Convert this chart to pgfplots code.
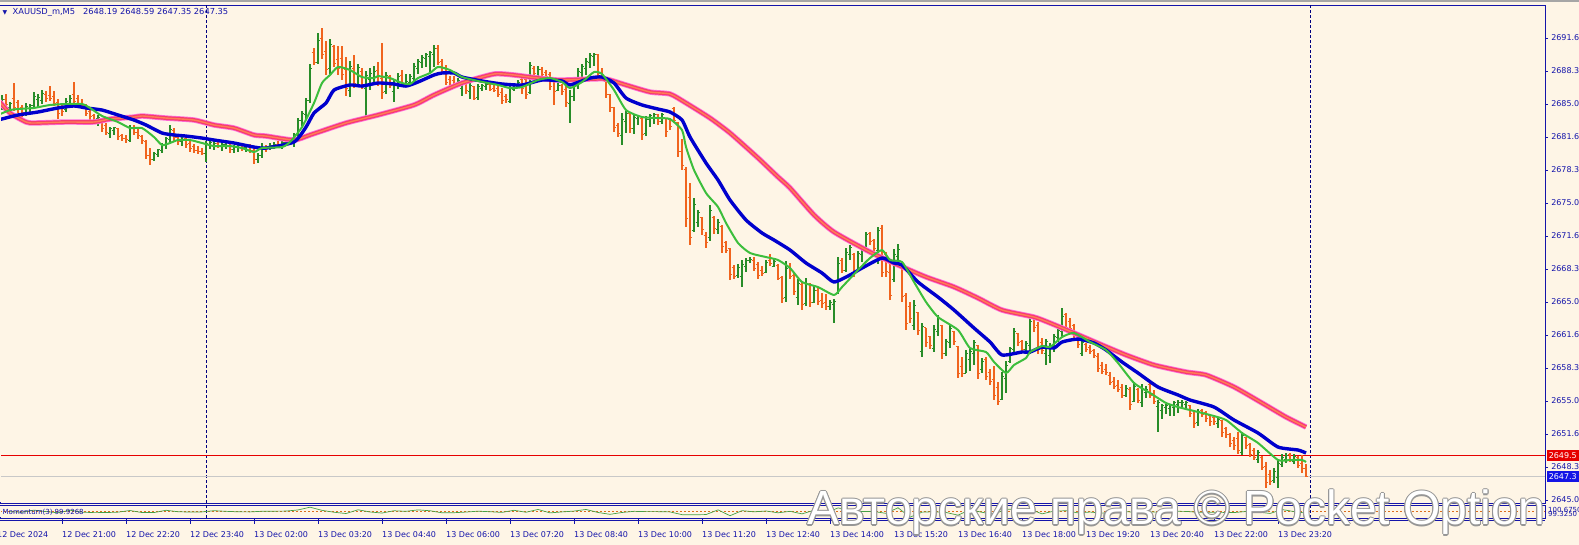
\documentclass[border=0pt]{standalone}
\usepackage{pgfplots}
\pgfplotsset{compat=1.18}
\usepackage{pgfplotstable}
\usepackage{fontspec}
\setmainfont{DejaVu Sans}
\newfontfamily\wmfont{Liberation Sans}
\definecolor{bg}{RGB}{254,245,230}
\definecolor{axblue}{RGB}{20,20,170}
\definecolor{upg}{RGB}{40,140,40}
\definecolor{dnor}{RGB}{240,100,30}
\definecolor{maG}{RGB}{60,190,60}
\definecolor{maB}{RGB}{0,0,205}
\definecolor{maRa}{RGB}{255,110,220}
\definecolor{maRb}{RGB}{245,60,110}
\definecolor{maRc}{RGB}{255,125,85}
\definecolor{momg}{RGB}{70,160,70}
\definecolor{lvl}{RGB}{220,110,30}
\definecolor{sep}{RGB}{0,0,128}
\definecolor{boxred}{RGB}{230,0,0}
\definecolor{boxblue}{RGB}{20,20,230}
\definecolor{wmgray}{RGB}{150,150,150}
\definecolor{bidgray}{RGB}{200,200,200}

\pgfdeclareplotmark{ctick}{\pgfpathmoveto{\pgfpoint{0pt}{0pt}}\pgfpathlineto{\pgfpoint{2.3pt}{0pt}}\pgfusepathqstroke}
\pgfdeclareplotmark{otick}{\pgfpathmoveto{\pgfpoint{-2.3pt}{0pt}}\pgfpathlineto{\pgfpoint{0pt}{0pt}}\pgfusepathqstroke}

\pgfplotstableread{
i o h l c
0 2684.8 2685.6 2683.9 2685.3
1 2684.6 2685.9 2684.4 2685.5
2 2685.5 2686.0 2684.6 2684.9
3 2684.6 2685.2 2684.0 2685.0
4 2685.6 2687.1 2684.3 2684.6
5 2685.2 2685.4 2684.1 2684.5
6 2684.6 2684.9 2683.7 2684.1
7 2684.0 2685.1 2683.8 2684.7
8 2684.5 2685.0 2683.9 2684.8
9 2684.8 2686.2 2684.5 2685.8
10 2685.5 2686.0 2684.6 2685.7
11 2685.4 2686.4 2685.0 2686.1
12 2686.0 2686.3 2685.2 2685.6
13 2685.9 2686.8 2685.3 2685.6
14 2685.8 2686.3 2684.8 2685.0
15 2685.2 2685.5 2683.5 2684.0
16 2684.6 2685.0 2683.8 2684.2
17 2684.4 2685.6 2684.2 2685.3
18 2685.1 2685.9 2684.8 2685.6
19 2686.0 2687.2 2684.9 2685.3
20 2685.6 2685.9 2684.7 2685.0
21 2685.1 2685.5 2684.6 2684.8
22 2684.8 2685.0 2683.8 2684.0
23 2684.2 2684.5 2683.4 2683.7
24 2683.8 2684.0 2683.1 2683.4
25 2683.5 2683.9 2682.8 2683.6
26 2683.3 2683.6 2682.2 2682.5
27 2682.8 2683.1 2681.9 2682.1
28 2682.0 2682.7 2681.6 2682.5
29 2682.3 2682.7 2681.9 2682.6
30 2682.5 2682.6 2681.4 2681.7
31 2681.8 2682.0 2681.3 2681.5
32 2681.5 2681.9 2681.1 2681.4
33 2681.3 2682.9 2681.2 2682.6
34 2682.6 2682.9 2681.9 2682.1
35 2682.1 2682.7 2681.5 2681.8
36 2681.7 2681.9 2681.0 2681.3
37 2681.2 2681.4 2679.4 2679.8
38 2679.8 2680.6 2678.8 2679.4
39 2679.4 2680.2 2679.2 2680.0
40 2679.9 2680.5 2679.6 2680.4
41 2680.3 2681.1 2680.0 2680.9
42 2680.8 2681.7 2680.5 2681.5
43 2681.4 2682.9 2681.1 2682.4
44 2682.3 2682.6 2681.3 2681.6
45 2681.6 2681.9 2680.9 2681.2
46 2681.2 2681.8 2680.8 2681.4
47 2681.5 2681.9 2680.6 2680.9
48 2681.0 2681.3 2680.2 2680.5
49 2680.7 2681.0 2680.0 2680.3
50 2680.3 2680.8 2679.9 2680.2
51 2680.2 2680.6 2679.8 2680.0
52 2680.0 2681.3 2679.1 2681.0
53 2680.9 2681.4 2680.5 2681.1
54 2680.8 2681.3 2680.4 2681.0
55 2681.0 2681.4 2680.6 2680.8
56 2680.8 2681.2 2680.3 2680.9
57 2680.9 2681.4 2680.5 2681.2
58 2681.1 2681.3 2680.1 2680.4
59 2680.4 2680.9 2680.1 2680.7
60 2680.6 2681.0 2680.2 2680.8
61 2680.8 2681.1 2680.3 2680.6
62 2680.6 2681.0 2680.2 2680.9
63 2680.8 2681.0 2680.0 2680.3
64 2680.3 2680.6 2678.9 2679.4
65 2679.4 2680.0 2679.0 2679.8
66 2679.8 2681.1 2679.5 2680.6
67 2680.6 2680.9 2680.2 2680.5
68 2680.7 2681.1 2680.4 2680.8
69 2680.8 2681.2 2680.5 2680.9
70 2680.9 2681.3 2680.6 2680.7
71 2680.7 2681.3 2680.5 2681.1
72 2681.1 2681.6 2680.8 2681.4
73 2681.3 2681.7 2680.9 2681.5
74 2681.0 2682.1 2680.7 2681.9
75 2681.9 2683.6 2681.6 2683.3
76 2683.3 2684.3 2682.8 2684.0
77 2683.9 2685.6 2683.4 2685.4
78 2685.4 2689.0 2685.1 2688.6
79 2690.2 2690.7 2688.9 2689.2
80 2689.2 2692.2 2689.0 2691.4
81 2691.6 2692.7 2689.5 2690.0
82 2690.3 2691.4 2687.9 2688.5
83 2688.6 2691.6 2688.0 2691.0
84 2690.8 2691.0 2688.7 2689.1
85 2689.5 2690.9 2687.9 2688.6
86 2689.6 2690.9 2687.4 2688.0
87 2688.5 2689.7 2685.8 2686.6
88 2686.4 2689.3 2685.7 2688.8
89 2688.6 2689.9 2686.6 2687.1
90 2687.0 2689.0 2686.9 2688.7
91 2688.3 2688.6 2686.5 2686.9
92 2686.6 2688.3 2683.8 2687.9
93 2687.5 2688.6 2686.4 2688.1
94 2687.7 2688.8 2686.9 2688.3
95 2688.4 2689.2 2686.8 2687.2
96 2687.6 2691.2 2685.5 2686.2
97 2686.3 2688.2 2686.0 2687.9
98 2687.8 2687.9 2686.6 2686.9
99 2686.3 2687.4 2685.2 2687.1
100 2687.0 2688.1 2686.5 2687.8
101 2687.9 2688.4 2686.8 2687.1
102 2687.1 2688.0 2686.9 2687.3
103 2687.2 2688.0 2687.0 2687.8
104 2687.6 2689.1 2687.3 2688.8
105 2688.6 2689.5 2688.0 2689.3
106 2689.2 2689.9 2688.6 2689.7
107 2689.6 2690.1 2688.7 2690.0
108 2689.8 2690.4 2688.2 2690.2
109 2690.0 2691.0 2688.7 2690.6
110 2690.6 2691.0 2688.9 2689.2
111 2689.3 2689.5 2688.2 2688.6
112 2688.6 2688.9 2686.9 2687.2
113 2687.5 2687.8 2686.6 2686.9
114 2687.4 2687.8 2686.9 2687.1
115 2686.9 2687.6 2686.8 2687.4
116 2686.6 2687.2 2685.8 2687.0
117 2687.4 2687.5 2686.0 2686.4
118 2686.3 2687.2 2685.5 2686.9
119 2686.8 2686.8 2685.4 2685.6
120 2685.7 2687.0 2685.4 2686.8
121 2686.6 2687.0 2686.3 2686.9
122 2686.8 2687.2 2686.4 2687.0
123 2687.0 2687.0 2686.3 2686.5
124 2686.6 2686.9 2686.2 2686.4
125 2686.6 2686.9 2685.7 2686.0
126 2686.2 2686.6 2685.0 2685.4
127 2685.8 2686.0 2685.1 2685.5
128 2685.3 2686.9 2685.1 2686.6
129 2686.5 2687.1 2686.3 2686.9
130 2686.8 2687.4 2686.6 2687.2
131 2687.5 2687.6 2686.0 2686.6
132 2687.5 2687.8 2685.5 2686.0
133 2686.2 2689.2 2686.0 2688.9
134 2688.6 2688.8 2687.7 2688.1
135 2687.8 2688.8 2687.6 2688.5
136 2688.5 2688.7 2687.7 2688.0
137 2688.2 2688.4 2687.6 2687.8
138 2688.0 2688.2 2686.4 2686.8
139 2687.4 2687.7 2684.9 2686.3
140 2686.4 2687.1 2686.3 2686.9
141 2686.9 2687.0 2685.9 2686.3
142 2686.5 2686.8 2684.7 2685.2
143 2685.0 2686.4 2683.1 2685.8
144 2685.8 2687.1 2685.3 2686.8
145 2686.9 2688.6 2686.5 2688.3
146 2688.2 2689.0 2687.6 2688.8
147 2688.6 2689.6 2687.9 2689.3
148 2689.2 2690.2 2688.6 2689.9
149 2689.8 2690.1 2688.8 2690.0
150 2690.0 2690.0 2687.7 2688.1
151 2688.2 2688.6 2687.3 2687.6
152 2687.3 2687.4 2685.6 2686.0
153 2686.0 2686.0 2684.2 2684.6
154 2684.6 2684.7 2682.2 2682.6
155 2682.8 2683.1 2681.7 2682.0
156 2681.8 2684.1 2680.9 2683.4
157 2683.2 2684.3 2682.1 2684.0
158 2684.0 2684.0 2682.1 2682.5
159 2682.5 2684.0 2682.0 2683.6
160 2683.5 2683.9 2682.9 2683.7
161 2683.5 2683.6 2681.4 2681.9
162 2682.0 2683.8 2681.8 2683.4
163 2683.4 2684.0 2682.7 2683.8
164 2683.6 2684.1 2683.0 2683.9
165 2683.9 2684.0 2682.9 2683.2
166 2683.2 2684.1 2683.0 2683.9
167 2683.5 2683.6 2681.7 2682.2
168 2683.4 2683.6 2682.4 2682.7
169 2684.5 2684.7 2683.1 2683.3
170 2683.1 2683.2 2679.6 2680.2
171 2680.2 2681.5 2678.3 2678.8
172 2678.4 2678.6 2672.6 2673.4
173 2675.6 2677.0 2670.8 2671.5
174 2672.2 2675.5 2672.1 2674.8
175 2673.0 2674.3 2672.6 2674.0
176 2673.5 2673.6 2671.8 2672.3
177 2671.7 2672.1 2670.5 2671.0
178 2671.5 2674.8 2671.2 2674.2
179 2673.5 2673.7 2671.9 2672.4
180 2672.3 2673.4 2671.9 2673.0
181 2672.6 2672.8 2670.0 2670.6
182 2671.0 2671.2 2669.9 2670.2
183 2670.4 2670.5 2667.2 2667.8
184 2668.5 2668.7 2667.3 2667.6
185 2667.7 2668.8 2667.4 2668.5
186 2667.6 2669.2 2666.5 2668.8
187 2668.6 2669.4 2668.0 2669.2
188 2669.2 2669.5 2668.9 2669.3
189 2669.2 2669.5 2668.1 2668.4
190 2668.8 2669.0 2667.3 2667.7
191 2668.2 2668.6 2667.6 2667.9
192 2668.0 2669.2 2667.9 2669.0
193 2669.2 2669.8 2668.6 2668.9
194 2668.6 2669.4 2668.5 2669.1
195 2668.7 2668.8 2667.2 2667.4
196 2667.5 2667.6 2664.9 2665.4
197 2665.5 2669.1 2665.0 2668.4
198 2668.6 2668.9 2667.3 2667.6
199 2667.7 2668.0 2665.7 2666.1
200 2665.5 2667.3 2664.7 2666.9
201 2666.8 2667.0 2664.2 2664.7
202 2664.8 2667.4 2664.6 2666.8
203 2666.8 2666.9 2664.5 2665.0
204 2665.0 2666.6 2664.9 2666.2
205 2666.2 2666.4 2664.7 2665.1
206 2665.2 2665.9 2664.4 2664.8
207 2665.0 2665.8 2664.2 2664.5
208 2664.5 2665.2 2664.2 2665.0
209 2664.7 2665.3 2662.9 2665.1
210 2665.9 2669.5 2665.8 2668.9
211 2669.2 2669.4 2667.9 2668.2
212 2668.2 2670.5 2668.0 2670.0
213 2669.8 2670.8 2669.2 2670.5
214 2669.8 2670.0 2667.5 2668.0
215 2668.2 2670.2 2668.0 2669.9
216 2669.8 2670.6 2669.0 2670.4
217 2670.3 2672.1 2670.1 2671.8
218 2671.9 2672.1 2670.8 2671.1
219 2671.2 2671.4 2670.0 2670.4
220 2670.2 2672.6 2668.8 2672.2
221 2672.4 2672.8 2667.5 2668.0
222 2669.8 2670.1 2667.5 2668.1
223 2668.0 2669.0 2665.2 2665.7
224 2667.3 2670.4 2667.0 2669.8
225 2669.6 2670.9 2668.9 2670.3
226 2668.6 2669.0 2665.0 2665.6
227 2665.7 2665.9 2662.2 2662.8
228 2664.5 2665.0 2662.9 2663.3
229 2662.6 2665.2 2662.2 2664.6
230 2663.9 2664.0 2661.7 2662.1
231 2660.0 2662.9 2659.4 2662.5
232 2662.4 2662.4 2660.5 2660.9
233 2661.5 2661.6 2660.3 2660.6
234 2660.3 2662.7 2660.0 2662.2
235 2662.0 2663.7 2661.6 2663.4
236 2662.6 2662.7 2659.2 2659.8
237 2659.8 2661.3 2659.5 2661.0
238 2660.9 2662.7 2660.4 2662.3
239 2662.0 2662.1 2660.7 2661.0
240 2660.5 2660.6 2657.3 2657.8
241 2658.5 2659.4 2657.4 2657.8
242 2657.8 2660.2 2657.8 2659.8
243 2659.2 2660.4 2658.0 2660.0
244 2659.8 2661.2 2658.6 2660.9
245 2660.6 2660.7 2657.2 2657.8
246 2658.2 2659.3 2657.8 2659.0
247 2659.2 2659.4 2657.1 2657.5
248 2657.9 2658.2 2656.6 2657.0
249 2657.2 2658.5 2655.1 2655.6
250 2656.4 2656.9 2654.6 2655.0
251 2655.2 2657.9 2655.1 2657.5
252 2657.3 2659.0 2655.8 2658.6
253 2659.0 2660.5 2658.8 2660.3
254 2660.2 2662.4 2659.6 2662.0
255 2661.8 2661.9 2660.6 2660.9
256 2661.0 2661.2 2659.9 2660.2
257 2660.2 2661.1 2659.9 2660.8
258 2660.6 2663.4 2659.7 2663.0
259 2663.4 2663.7 2662.0 2662.4
260 2662.6 2663.0 2659.7 2660.2
261 2660.9 2661.4 2659.7 2660.1
262 2659.8 2661.3 2658.6 2661.0
263 2659.6 2660.9 2658.8 2660.6
264 2660.5 2661.8 2660.0 2661.5
265 2661.4 2662.3 2661.0 2662.1
266 2662.0 2664.4 2661.4 2663.5
267 2663.7 2663.9 2662.0 2662.4
268 2663.0 2663.4 2662.0 2662.3
269 2662.6 2662.8 2661.3 2661.6
270 2661.6 2661.9 2660.4 2660.7
271 2659.8 2661.2 2659.5 2660.9
272 2660.7 2660.9 2660.0 2660.2
273 2660.4 2660.7 2659.7 2660.0
274 2660.1 2660.3 2659.3 2659.6
275 2659.5 2659.9 2657.9 2658.3
276 2658.6 2658.9 2657.7 2658.0
277 2658.2 2658.7 2657.6 2657.9
278 2657.6 2657.9 2656.6 2656.9
279 2657.0 2657.4 2656.2 2656.5
280 2656.6 2657.1 2655.9 2656.2
281 2656.4 2656.7 2655.3 2655.6
282 2655.6 2656.6 2655.4 2656.3
283 2656.2 2656.4 2654.1 2654.6
284 2655.0 2656.9 2654.9 2656.5
285 2656.2 2656.3 2654.8 2655.1
286 2654.9 2656.7 2654.4 2656.3
287 2655.9 2656.5 2655.3 2656.2
288 2656.7 2657.1 2655.3 2655.6
289 2655.8 2656.1 2654.7 2655.0
290 2654.4 2655.1 2651.9 2654.8
291 2654.0 2654.7 2653.2 2654.5
292 2654.3 2654.7 2653.7 2654.5
293 2654.2 2654.7 2653.5 2654.5
294 2654.3 2655.0 2653.5 2654.8
295 2654.6 2655.1 2653.8 2654.9
296 2654.8 2655.1 2654.4 2654.9
297 2654.6 2655.0 2654.1 2654.9
298 2654.5 2654.6 2653.4 2653.7
299 2654.0 2654.1 2652.3 2652.7
300 2652.8 2654.2 2652.5 2653.9
301 2654.0 2654.2 2653.4 2653.6
302 2653.8 2654.0 2652.9 2653.2
303 2653.5 2653.7 2652.5 2652.9
304 2653.3 2653.6 2652.6 2652.9
305 2652.7 2653.3 2652.3 2653.1
306 2653.0 2653.1 2651.4 2651.8
307 2652.2 2652.4 2651.3 2651.6
308 2651.6 2651.8 2650.4 2650.7
309 2651.0 2651.4 2650.1 2650.5
310 2651.2 2651.9 2649.6 2650.0
311 2649.8 2651.9 2649.5 2651.5
312 2651.3 2651.4 2650.2 2650.5
313 2650.6 2650.8 2649.3 2649.6
314 2650.0 2650.3 2649.0 2649.3
315 2649.1 2650.1 2648.7 2649.8
316 2649.3 2649.4 2648.0 2648.3
317 2648.4 2648.8 2646.2 2646.8
318 2647.6 2648.0 2646.5 2646.9
319 2647.0 2648.2 2646.7 2647.9
320 2647.3 2649.0 2646.2 2648.7
321 2648.6 2649.6 2648.3 2649.3
322 2649.1 2649.8 2648.7 2649.5
323 2649.6 2649.8 2648.8 2649.1
324 2648.9 2649.6 2648.6 2649.4
325 2649.3 2649.4 2648.2 2648.5
326 2648.7 2649.5 2647.7 2648.2
327 2648.19 2648.59 2647.35 2647.35
}\bars

\pgfplotstableread{
i v
0 2683.89
3 2684.39
5 2684.49
9 2684.60
13 2684.90
17 2685.00
21 2685.00
23 2684.60
26 2683.79
30 2683.18
33 2682.57
36 2682.57
39 2681.66
41 2680.85
43 2681.06
45 2681.36
48 2681.36
51 2681.06
54 2680.75
58 2680.75
61 2680.55
64 2680.15
66 2680.55
71 2680.65
73 2681.16
76 2682.67
79 2685.10
81 2687.12
83 2687.93
85 2688.74
88 2688.43
91 2687.72
94 2687.62
95 2687.82
98 2687.62
101 2687.12
103 2687.02
105 2687.62
108 2688.13
110 2688.74
113 2688.43
116 2687.72
120 2687.32
125 2686.92
128 2686.61
131 2686.71
135 2687.42
138 2687.62
141 2687.22
143 2686.61
146 2687.22
149 2688.23
151 2688.03
154 2686.41
157 2684.39
161 2683.68
165 2683.58
168 2683.48
171 2682.37
172 2680.65
174 2678.33
177 2676.01
180 2674.60
182 2672.98
185 2670.96
188 2669.95
192 2669.54
195 2669.24
198 2668.43
201 2667.02
205 2666.51
209 2665.71
211 2666.51
215 2668.23
218 2669.44
221 2670.25
223 2669.24
226 2669.04
229 2667.02
232 2665.00
235 2663.48
240 2662.17
243 2660.35
247 2659.95
249 2658.94
252 2657.83
254 2658.64
257 2659.34
258 2659.95
261 2660.55
263 2660.45
266 2661.46
269 2661.87
273 2660.96
277 2660.15
280 2658.84
284 2656.82
288 2655.81
292 2654.80
295 2654.39
298 2654.09
303 2653.59
307 2653.08
311 2651.77
315 2650.76
320 2649.04
323 2649.04
326 2649.04
327 2648.84
}\maGt

\pgfplotstableread{
i v
0 2683.38
5 2683.89
10 2684.19
15 2684.60
19 2684.80
22 2684.60
26 2684.39
30 2683.89
34 2683.38
37 2682.88
41 2682.07
44 2681.87
47 2681.76
51 2681.56
54 2681.36
59 2681.06
64 2680.65
67 2680.55
74 2681.16
77 2682.67
79 2684.09
82 2685.10
84 2686.41
88 2686.92
91 2686.81
95 2687.12
99 2687.02
102 2686.81
105 2687.22
109 2687.93
111 2688.13
114 2688.13
116 2687.72
121 2687.32
126 2687.02
131 2686.92
136 2687.42
141 2687.32
143 2686.92
148 2687.62
151 2687.72
154 2687.12
157 2685.60
161 2684.90
165 2684.49
168 2684.19
171 2683.38
173 2681.66
177 2679.04
180 2677.32
183 2675.30
187 2673.28
191 2671.97
194 2671.26
198 2670.25
202 2668.94
206 2667.93
209 2667.02
213 2667.73
216 2668.43
221 2669.44
224 2668.94
226 2668.74
230 2667.02
235 2665.50
239 2664.19
244 2662.37
248 2660.96
251 2659.65
256 2659.95
258 2659.95
261 2660.45
264 2660.35
266 2660.96
270 2661.26
274 2660.86
277 2660.15
281 2658.94
285 2657.83
290 2656.41
295 2655.61
298 2655.10
304 2654.39
309 2653.08
315 2651.77
320 2650.35
325 2650.05
327 2649.75
}\maBt

\pgfplotstableread{
i v
0 2685.40
3 2684.09
7 2683.18
9 2683.08
17 2683.18
24 2683.18
28 2683.48
34 2683.68
36 2683.79
42 2683.58
49 2683.38
54 2682.88
59 2682.57
64 2681.87
67 2681.76
74 2681.36
78 2681.87
87 2683.08
95 2683.89
104 2684.90
109 2685.91
116 2687.12
124 2688.03
129 2687.93
133 2687.72
140 2687.42
148 2687.52
152 2687.52
157 2686.92
163 2686.21
168 2686.01
172 2685.10
178 2683.58
183 2682.07
190 2679.55
195 2677.63
198 2676.52
204 2673.79
209 2672.07
218 2670.05
225 2668.74
232 2667.53
239 2666.52
245 2665.40
251 2664.19
259 2663.48
263 2662.88
269 2661.87
276 2660.66
282 2659.65
289 2658.64
297 2657.93
302 2657.63
309 2656.42
316 2654.80
322 2653.38
327 2652.37
}\maRt

\pgfplotstableread{
i m
3 99.989
6 99.966
9 100.064
12 99.996
15 99.940
18 100.060
21 99.970
24 99.948
27 99.951
30 99.970
33 100.045
36 99.951
39 99.951
42 100.056
45 99.989
48 99.974
51 99.981
54 100.038
57 100.008
60 99.985
63 99.981
66 100.011
69 100.015
72 100.019
75 100.071
78 100.199
81 100.053
84 99.966
87 99.906
90 100.079
93 99.978
96 99.929
99 100.034
102 100.008
105 100.075
108 100.034
111 99.940
114 99.944
117 99.974
120 100.015
123 99.989
126 99.959
129 100.056
132 99.966
135 100.094
138 99.936
141 99.981
144 100.019
147 100.094
150 99.955
153 99.869
156 99.955
159 100.008
162 99.993
165 99.993
168 99.981
171 99.854
174 99.850
177 99.858
180 100.075
183 99.805
186 100.038
189 99.985
192 100.023
195 99.940
198 100.008
201 99.891
204 100.056
207 99.936
210 100.165
213 100.060
216 99.996
219 100.000
222 99.914
225 100.173
228 99.738
231 99.970
234 99.989
237 99.955
240 99.831
243 100.083
246 99.963
249 99.873
252 100.113
255 100.086
258 100.105
261 99.891
264 100.019
267 100.034
270 99.936
273 99.974
276 99.925
279 99.944
282 99.993
285 99.955
288 99.981
291 99.959
294 100.011
297 100.004
300 99.963
303 99.963
306 99.959
309 99.951
312 100.000
315 99.974
318 99.910
321 100.090
324 99.996
327 99.927
}\momt

\newcommand{\lblfont}{\fontsize{8}{9.6}\selectfont}

\begin{document}
\begin{tikzpicture}[x=1pt,y=1pt]
\useasboundingbox (0,0) rectangle (1579,545);
\fill[bg] (0,0) rectangle (1579,545);
\fill[gray!70] (0,543.3) rectangle (1579,545);

\begin{axis}[
  at={(0pt,42pt)}, anchor=south west, scale only axis,
  width=1545pt, height=498pt,
  xmin=0.5, xmax=386.75, ymin=2644.7, ymax=2695.0,
  axis line style={draw=axblue, line width=0.9pt},
  xtick=\empty,
  ytick={2645,2648.3333,2651.6667,2655,2658.3333,2661.6667,2665,2668.3333,2671.6667,2675,2678.3333,2681.6667,2685,2688.3333,2691.6667},
  yticklabels={2645.0,2648.3,2651.6,2655.0,2658.3,2661.6,2665.0,2668.3,2671.6,2675.0,2678.3,2681.6,2685.0,2688.3,2691.6},
  ytick pos=right, yticklabel pos=right, tick align=outside,
  major tick length=3pt, tick style={draw=axblue, line width=0.7pt},
  yticklabel style={font=\lblfont, text=axblue, inner sep=0pt, anchor=west, xshift=3pt},
  clip mode=individual,
  every axis plot/.append style={line join=round},
]
\addplot[sep, line width=0.9pt, dash pattern=on 3pt off 2pt] coordinates {(52,2644.7) (52,2695)};
\addplot[sep, line width=0.9pt, dash pattern=on 3pt off 2pt] coordinates {(328,2644.7) (328,2695)};
\addplot[bidgray, line width=0.8pt] coordinates {(0.5,2647.35) (386.75,2647.35)};
\addplot[boxred, line width=0.8pt] coordinates {(0.5,2649.5) (386.75,2649.5)};
% up bars
\addplot[upg, only marks, mark=ctick, mark options={line width=1pt},
  restrict expr to domain={\thisrow{c}-\thisrow{o}}{0:100},
  error bars/.cd, y dir=both, y explicit, error mark=none,
  error bar style={line width=1.3pt, draw=upg}]
  table[x=i, y=c, y error plus expr=\thisrow{h}-\thisrow{c}, y error minus expr=\thisrow{c}-\thisrow{l}] {\bars};
\addplot[upg, only marks, mark=otick, mark options={line width=1pt},
  restrict expr to domain={\thisrow{c}-\thisrow{o}}{0:100}]
  table[x=i, y=o] {\bars};
% down bars
\addplot[dnor, only marks, mark=ctick, mark options={line width=1pt},
  restrict expr to domain={\thisrow{c}-\thisrow{o}}{-100:-0.001},
  error bars/.cd, y dir=both, y explicit, error mark=none,
  error bar style={line width=1.3pt, draw=dnor}]
  table[x=i, y=c, y error plus expr=\thisrow{h}-\thisrow{c}, y error minus expr=\thisrow{c}-\thisrow{l}] {\bars};
\addplot[dnor, only marks, mark=otick, mark options={line width=1pt},
  restrict expr to domain={\thisrow{c}-\thisrow{o}}{-100:-0.001}]
  table[x=i, y=o] {\bars};
% moving averages
\addplot[maRa, line width=5.4pt, smooth, tension=0.35] table[x=i, y=v] {\maRt};
\addplot[maRb, line width=3.8pt, smooth, tension=0.35] table[x=i, y=v] {\maRt};
\addplot[maRc, line width=1.4pt, smooth, tension=0.35] table[x=i, y=v] {\maRt};
\addplot[maB, line width=3.4pt, smooth, tension=0.35] table[x=i, y=v] {\maBt};
\addplot[maG, line width=2pt, smooth, tension=0.35] table[x=i, y=v] {\maGt};
\coordinate (redp) at (axis cs:386.75,2649.5);
\coordinate (bluep) at (axis cs:386.75,2647.35);
\end{axis}

\begin{axis}[
  at={(0pt,27pt)}, anchor=south west, scale only axis,
  width=1545pt, height=13pt,
  xmin=0.5, xmax=386.75, ymin=99.7, ymax=100.3,
  axis line style={draw=axblue, line width=0.9pt},
  ytick=\empty,
  xtick={16,32,...,320},
  xticklabels={12 Dec 21:00,12 Dec 22:20,12 Dec 23:40,13 Dec 02:00,13 Dec 03:20,13 Dec 04:40,13 Dec 06:00,13 Dec 07:20,13 Dec 08:40,13 Dec 10:00,13 Dec 11:20,13 Dec 12:40,13 Dec 14:00,13 Dec 15:20,13 Dec 16:40,13 Dec 18:00,13 Dec 19:20,13 Dec 20:40,13 Dec 22:00,13 Dec 23:20},
  xtick pos=bottom, tick align=outside, major tick length=6pt,
  tick style={draw=axblue, line width=0.7pt},
  xticklabel style={font=\lblfont, text=axblue, inner sep=0pt, anchor=north west, yshift=-7.5pt},
  clip mode=individual,
]
\addplot[sep, line width=0.9pt, dash pattern=on 3pt off 2pt] coordinates {(52,99.7) (52,100.3)};
\addplot[sep, line width=0.9pt, dash pattern=on 3pt off 2pt] coordinates {(328,99.7) (328,100.3)};
\addplot[lvl, line width=0.6pt, dash pattern=on 2pt off 2pt] coordinates {(0.5,100) (386.75,100)};
\addplot[momg, line width=0.7pt] table[x=i, y=m] {\momt};
\draw[axblue, line width=0.9pt] ([yshift=-2pt]rel axis cs:0,0) -- ([yshift=-2pt]rel axis cs:1,0);
\end{axis}

% hide the left frame edge (the reference shows none)
\draw[bg, line width=1.2pt] (0,43) -- (0,539);
\draw[bg, line width=1.2pt] (0,28) -- (0,39);

% first date label
\node[anchor=north west, inner sep=0pt, font=\lblfont, text=axblue] at (-3,13.5) {12 Dec 2024};

% title
\node[inner sep=0pt, font=\fontsize{6}{6}\selectfont, text=axblue] at (5,532.5) {▼};
\node[anchor=west, inner sep=0pt, font=\fontsize{8.3}{9.6}\selectfont, text=axblue] at (12.5,532.5) {XAUUSD\_m,M5\ \ \ 2648.19 2648.59 2647.35 2647.35};

% momentum labels
\node[anchor=west, inner sep=0pt, font=\fontsize{7}{8}\selectfont, text=axblue] at (2.5,33) {Momentum(3) 99.9268};
\node[anchor=west, inner sep=0pt, font=\fontsize{7}{8}\selectfont, text=axblue] at (1548,35) {100.6750};
\node[anchor=west, inner sep=0pt, font=\fontsize{7}{8}\selectfont, text=axblue] at (1548,31.5) {99.3250};

% price boxes
\fill[boxred] ([xshift=2pt,yshift=-5.5pt]redp) rectangle ([xshift=40pt,yshift=5.5pt]redp);
\node[anchor=west, inner sep=0pt, font=\lblfont, text=white] at ([xshift=3.5pt]redp) {2649.5};
\fill[boxblue] ([xshift=2pt,yshift=-5.5pt]bluep) rectangle ([xshift=40pt,yshift=5.5pt]bluep);
\node[anchor=west, inner sep=0pt, font=\lblfont, text=white] at ([xshift=3.5pt]bluep) {2647.3};

% watermark
\foreach \dx/\dy in {1.1/0,-1.1/0,0/1.1,0/-1.1,0.8/0.8,-0.8/0.8,0.8/-0.8,-0.8/-0.8}{
  \node[anchor=base west, inner sep=0pt, text=wmgray, font=\wmfont\fontsize{48}{50}\selectfont] at (807+\dx,20+\dy) {Авторские права © Pocket Option};
}
\node[anchor=base west, inner sep=0pt, text=white, font=\wmfont\fontsize{48}{50}\selectfont] at (807,20) {Авторские права © Pocket Option};
\end{tikzpicture}
\end{document}
